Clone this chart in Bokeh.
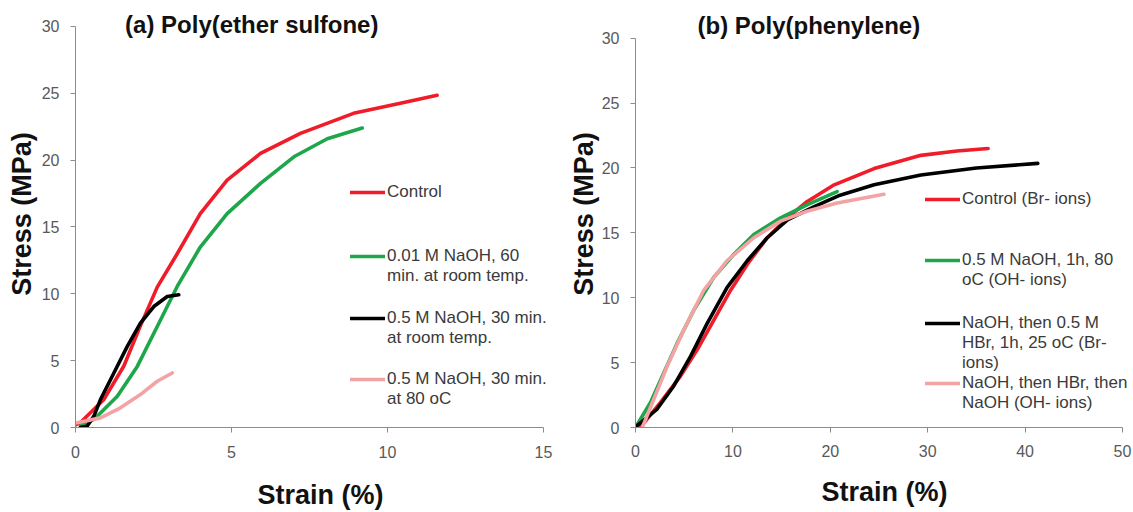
from bokeh.plotting import figure
from bokeh.layouts import row
from bokeh.models import Range1d, Label, Legend, LegendItem, FixedTicker
from bokeh.embed import file_html
from bokeh.resources import INLINE

# ---------------- data ----------------
# (a) Poly(ether sulfone)
pes_ctrl_x = [0.0, 0.16, 0.91, 1.55, 2.08, 2.62, 3.26, 4.0, 4.86, 5.93, 7.21, 8.91, 10.3, 11.59]
pes_ctrl_y = [0.2, 0.37, 2.1, 4.6, 7.6, 10.5, 13.0, 16.0, 18.5, 20.5, 22.0, 23.5, 24.2, 24.85]
pes_001_x = [0.16, 0.59, 1.34, 1.98, 2.62, 3.26, 4.0, 4.86, 5.93, 7.0, 8.07, 9.19]
pes_001_y = [0.1, 0.6, 2.34, 4.57, 7.56, 10.55, 13.5, 16.0, 18.26, 20.25, 21.6, 22.4]
pes_05rt_x = [0.16, 0.37, 0.59, 0.8, 1.23, 1.66, 2.08, 2.51, 2.94, 3.31]
pes_05rt_y = [0.0, 0.1, 0.85, 2.09, 4.08, 6.07, 7.8, 9.05, 9.8, 9.93]
pes_0580_x = [0.05, 0.8, 1.44, 2.08, 2.62, 3.1]
pes_0580_y = [0.35, 0.72, 1.47, 2.46, 3.46, 4.08]
pes_labels = ["Control",
              ["0.01 M NaOH, 60", "min. at room temp."],
              ["0.5 M NaOH, 30 min.", "at room temp."],
              ["0.5 M NaOH, 30 min.", "at 80 oC"]]

# (b) Poly(phenylene)
pp_ctrl_x = [0.5, 2.57, 4.62, 6.33, 8.04, 9.75, 11.5, 13.5, 15.6, 17.6, 20.4, 24.5, 29.3, 33.0, 36.2]
pp_ctrl_y = [0.0, 1.93, 3.96, 5.99, 8.28, 10.56, 12.6, 14.6, 16.15, 17.4, 18.7, 19.95, 20.97, 21.3, 21.5]
pp_oh_x = [0.0, 1.54, 2.9, 4.28, 5.99, 8.04, 10.1, 12.15, 14.9, 17.6, 20.7]
pp_oh_y = [0.0, 1.93, 4.2, 6.5, 9.04, 11.58, 13.35, 14.87, 16.15, 17.16, 18.18]
pp_br_x = [0.17, 2.22, 3.93, 5.65, 7.36, 9.41, 11.47, 13.5, 15.6, 18.3, 21.0, 24.5, 29.3, 35.0, 41.3]
pp_br_y = [0.15, 1.42, 3.2, 5.48, 8.02, 10.8, 12.85, 14.6, 16.0, 17.0, 17.9, 18.7, 19.45, 20.0, 20.35]
pp_oh2_x = [0.7, 1.88, 3.25, 4.96, 7.0, 9.41, 12.15, 14.9, 17.6, 20.7, 25.5]
pp_oh2_y = [0.0, 2.18, 4.72, 7.52, 10.56, 12.85, 14.62, 15.9, 16.66, 17.3, 17.97]
pp_labels = ["Control (Br- ions)",
             ["0.5 M NaOH, 1h, 80", "oC (OH- ions)"],
             ["NaOH, then 0.5 M", "HBr, 1h, 25 oC (Br-", "ions)"],
             ["NaOH, then HBr, then", "NaOH (OH- ions)"]]

y_ticks = [0, 5, 10, 15, 20, 25, 30]
x_ticks_a = [0, 5, 10, 15]
x_ticks_b = [0, 10, 20, 30, 40, 50]

colors = ["#f01c2a", "#1ea64a", "#000000", "#f4a3a5"]
FONT = "Liberation Sans"
TICK_COLOR = "#595959"
AXIS_COLOR = "#8c8c8c"


def make_fig(width, xr, xbounds, yr, xticks, bl, bb, xtick_stand, xstand, ystand):
    p = figure(width=width, height=512, x_range=Range1d(*xr), y_range=Range1d(*yr),
               output_backend="svg", toolbar_location=None, title=None,
               min_border_left=bl, min_border_right=0, min_border_top=0, min_border_bottom=bb)
    p.outline_line_color = None
    p.xgrid.visible = False
    p.ygrid.visible = False
    p.background_fill_color = "white"
    p.border_fill_color = "white"
    p.xaxis.ticker = FixedTicker(ticks=xticks)
    p.yaxis.ticker = FixedTicker(ticks=y_ticks)
    p.xaxis.bounds = xbounds
    p.yaxis.bounds = (0, 30)
    for ax in (p.xaxis, p.yaxis):
        ax.axis_line_color = AXIS_COLOR
        ax.major_tick_line_color = AXIS_COLOR
        ax.major_tick_in = 0
        ax.major_tick_out = 5
        ax.minor_tick_line_color = None
        ax.major_label_text_font = FONT
        ax.major_label_text_font_size = "16px"
        ax.major_label_text_color = TICK_COLOR
        ax.axis_label_text_font = FONT
        ax.axis_label_text_font_size = "27px"
        ax.axis_label_text_font_style = "bold"
        ax.axis_label_text_color = "#111111"
    p.xaxis.major_label_standoff = xtick_stand
    p.yaxis.major_label_standoff = 11
    p.xaxis.axis_label = "Strain (%)"
    p.yaxis.axis_label = "Stress (MPa)"
    p.xaxis.axis_label_standoff = xstand
    p.yaxis.axis_label_standoff = ystand
    return p


def add_legend(p, renderer, lines, x, ybottom):
    if isinstance(lines, str):
        lines = [lines]
    # blank lines above keep the swatch level with the first text line
    text = "\n".join([""] * (len(lines) - 1) + list(lines))
    leg = Legend(items=[LegendItem(label=text, renderers=[renderer])],
                 location=(x, ybottom), orientation="vertical")
    leg.background_fill_alpha = 0
    leg.border_line_color = None
    leg.padding = 0
    leg.margin = 0
    leg.spacing = 0
    leg.glyph_width = 35
    leg.glyph_height = 20
    leg.label_height = 20
    leg.label_standoff = 2
    leg.label_text_font = FONT
    leg.label_text_font_size = "17px"
    leg.label_text_color = "#3a3a3a"
    leg.label_text_line_height = 1.22
    p.add_layout(leg, "center")


# ---------------- panel (a) ----------------
# frame: 75..565 px wide (468 px = 15 units), 0..428 px tall (402 px = 30 MPa)
pa = make_fig(565, (0, 15 * 490 / 468), (0, 15), (0, 30 * 428 / 402), x_ticks_a, 75, 84, 13, 19, 2)
ra = []
for xs, ys, c in zip([pes_ctrl_x, pes_001_x, pes_05rt_x, pes_0580_x],
                     [pes_ctrl_y, pes_001_y, pes_05rt_y, pes_0580_y], colors):
    ra.append(pa.line(xs, ys, line_color=c, line_width=3.6, line_cap="round", line_join="round"))
legend_bottoms_a = [224.6, 140.6, 78.6, 17.6]
for r, lab, yb in zip(ra, pes_labels, legend_bottoms_a):
    add_legend(pa, r, lab, 275, yb)
pa.add_layout(Label(x=5.65, y=30.15, text="(a) Poly(ether sulfone)", text_align="center",
                    text_baseline="middle", text_font=FONT, text_font_size="24px",
                    text_font_style="bold", text_color="#111111"))

# ---------------- panel (b) ----------------
# frame: 70..568 px wide (487 px = 50 units), 0..431 px tall (393 px = 30 MPa)
pb = make_fig(568, (0, 50 * 498 / 487), (0, 50), (0, 30 * 431 / 393), x_ticks_b, 70, 81, 12, 17, 0)
rb = []
for xs, ys, c in zip([pp_ctrl_x, pp_oh_x, pp_br_x, pp_oh2_x],
                     [pp_ctrl_y, pp_oh_y, pp_br_y, pp_oh2_y], colors):
    rb.append(pb.line(xs, ys, line_color=c, line_width=3.6, line_cap="round", line_join="round"))
legend_bottoms_b = [217.6, 136.6, 53.6, 13.6]
for r, lab, yb in zip(rb, pp_labels, legend_bottoms_b):
    add_legend(pb, r, lab, 290, yb)
pb.add_layout(Label(x=17.8, y=31.0, text="(b) Poly(phenylene)", text_align="center",
                    text_baseline="middle", text_font=FONT, text_font_size="24px",
                    text_font_style="bold", text_color="#111111"))

layout = row(pa, pb)
open("out.html", "w").write(file_html(layout, INLINE))
